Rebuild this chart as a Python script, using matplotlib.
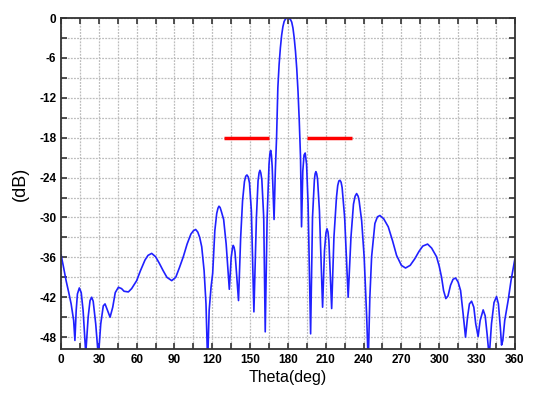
import numpy as np
from matplotlib import pyplot as plt
from matplotlib.ticker import MultipleLocator, FuncFormatter

# pattern (theta in deg, level in dB)
theta = [0, 2, 4, 6, 8, 10, 11, 12, 13, 14.5, 16, 17.5, 19.6, 21.5, 23, 24.3, 25.5,
         27.5, 29.6, 31.5, 33.5, 34.9, 36.5, 38.9, 41, 43, 45.5, 48, 50, 53.4, 56,
         60, 63, 66.6, 69, 71.9, 75, 78, 81, 84, 87.8, 91, 94, 97, 100, 103, 105,
         106.8, 108.5, 110, 111.6, 113.5, 115, 116.3, 117.5, 119, 120.3, 122, 123.5,
         124.5, 125.3, 126.2, 127.2, 129, 131, 133.5, 135, 136, 136.6, 137.3, 138,
         140.8, 142.5, 144, 145.5, 146.5, 147.5, 148.5, 149.5, 151, 153, 155, 156.3,
         157.1, 157.8, 158.5, 159.3, 160.8, 162, 163.5, 165, 165.7, 166.3, 166.9,
         167.5, 169, 170, 171, 172, 173, 174, 175, 176, 177, 178, 179, 180.5, 182,
         183, 184, 185, 186, 187, 188, 189, 190, 190.8, 191.8, 192.8, 193.7, 194.8,
         196, 198, 199.5, 201, 201.6, 202.2, 202.8, 203.5, 205, 207.5, 209, 210.2,
         211, 211.8, 212.5, 214.7, 216.5, 218.5, 219.5, 220.4, 221.3, 222.2, 223,
         225, 227.8, 230, 232, 233.3, 234.5, 235.7, 236.5, 238.5, 240.5, 242.5,
         243.7, 245, 246.4, 249, 251, 253, 256, 259.6, 263, 266.2, 270, 273.3, 277,
         280.7, 284, 287, 290.8, 294, 297.9, 300, 301.9, 303.5, 305.3, 307, 309,
         311, 313, 315, 317, 319, 320.9, 322.5, 324, 325.7, 327.5, 329, 330.9,
         332.5, 334.9, 336.5, 338, 339.7, 341.5, 343.5, 345.5, 347, 348.5, 349.5,
         350.5, 352, 354.7, 357, 360]
gain = [-35.6, -37.5, -39.5, -41.2, -43, -45.5, -48.5, -44, -41.5, -40.6, -41.3, -44,
        -50.5, -45, -42.5, -42, -42.6, -46, -51, -46, -43.3, -43, -43.8, -45, -43.5,
        -41.3, -40.5, -40.7, -41.1, -41.2, -40.7, -39.5, -38, -36.4, -35.7, -35.4,
        -35.9, -36.9, -38, -39, -39.5, -39, -37.5, -35.9, -34, -32.5, -32.0,
        -31.8, -32.2, -33.0, -34.4, -38, -43, -52, -44, -40.5, -38.4, -32, -29.4,
        -28.6, -28.3, -28.5, -29.1, -30.3, -34, -40.8, -36, -34.6, -34.2, -34.5,
        -35.2, -42.5, -33, -27.5, -24.6, -23.8, -23.6, -23.9, -24.8, -29, -44.2, -30,
        -24.5, -23.3, -22.9, -23.3, -24.3, -30, -47.2, -30, -22, -20.4, -19.9, -20.6,
        -22.3, -30.3, -23, -17.9, -10.5, -7, -4.5, -2.6, -1.3, -0.5, -0.15, 0, 0,
        -0.2, -0.6, -1.5, -3, -5, -7.6, -11, -15.5, -21, -31.4, -23, -20.6, -20.3,
        -22, -28, -47.5, -30, -24.3, -23.4, -23.1, -23.4, -24.2, -29, -43.5, -35,
        -32.3, -31.7, -32.2, -33.5, -43.7, -33, -27, -25.2, -24.5, -24.4, -24.7,
        -25.5, -30, -42, -33, -28, -26.8, -26.4, -26.8, -27.5, -30.5, -36, -45, -52,
        -42, -35.9, -30.9, -29.9, -29.7, -30.2, -31.4, -33.5, -35.7, -37.2, -37.6,
        -37.2, -36.2, -35.1, -34.3, -34.0, -34.6, -35.9, -37.3, -39.0, -41, -42.2,
        -41.8, -40.2, -39.3, -39.1, -39.7, -41, -44.5, -48.0, -45, -43, -42.6, -43.5,
        -46, -47.9, -45.5, -43.9, -44.8, -47.5, -51, -46, -42.8, -41.9, -43, -46.5,
        -49.2, -48.5, -45.5, -42.5, -39.5, -36.3]

# -18 dB mask segments
mask_level = -18
mask_left = [129, 165]
mask_right = [195, 231]

fig = plt.figure(figsize=(5.5, 3.94), dpi=100)
ax = fig.add_axes([0.111, 0.114, 0.825, 0.84])

ax.plot(theta, gain, color='#2020ff', lw=1.2)
ax.plot(mask_left, [mask_level] * 2, color='#ff0000', lw=2.5, solid_capstyle='butt')
ax.plot(mask_right, [mask_level] * 2, color='#ff0000', lw=2.5, solid_capstyle='butt')

ax.set_xlim(0, 360)
ax.set_ylim(-49.8, 0)
ax.xaxis.set_major_locator(MultipleLocator(30))
ax.xaxis.set_minor_locator(MultipleLocator(15))
ax.yaxis.set_major_locator(MultipleLocator(6))
ax.yaxis.set_minor_locator(MultipleLocator(3))
ax.yaxis.set_major_formatter(FuncFormatter(lambda v, p: '%d' % v))

ax.grid(True, which='both', color='#bdbdbd', linestyle=(0, (1.5, 1)), lw=0.9)
ax.tick_params(which='both', direction='in', top=True, right=True, length=4,
               width=1.2, color='#333333', labelsize=8.5)
for lab in ax.get_xticklabels() + ax.get_yticklabels():
    lab.set_fontweight('bold')
    lab.set_fontfamily('Liberation Sans')
for s in ax.spines.values():
    s.set_color('#333333')
    s.set_linewidth(1.3)

ax.set_xlabel('Theta(deg)', fontsize=11.5, fontfamily='Liberation Sans', labelpad=3)
ax.set_ylabel('(dB)', fontsize=13, fontfamily='Liberation Sans', labelpad=7)

plt.savefig('out.png', dpi=100)
